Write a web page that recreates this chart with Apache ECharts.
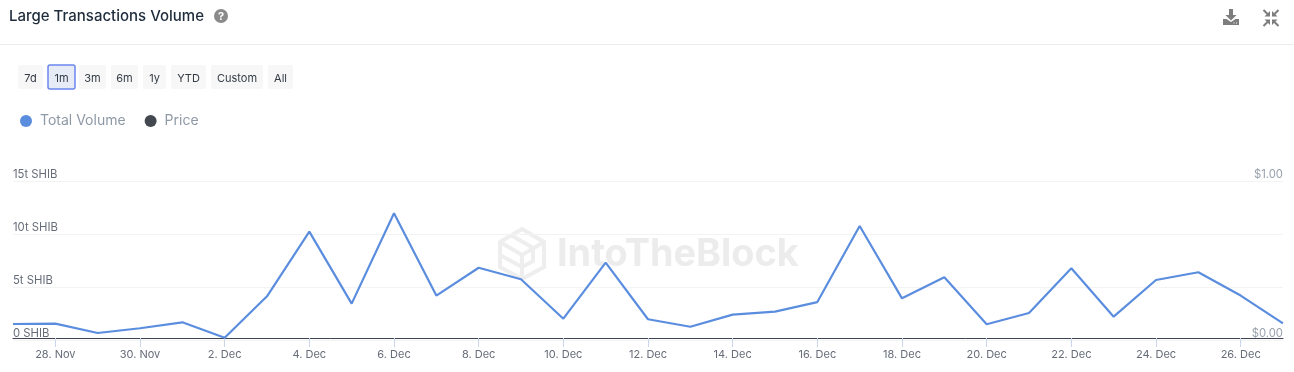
<!DOCTYPE html>
<html>
<head>
<meta charset="utf-8">
<title>Large Transactions Volume</title>
<script src="https://cdn.jsdelivr.net/npm/echarts@6/dist/echarts.min.js"></script>
<style>
html, body { margin: 0; padding: 0; background: #fff; }
#chart { width: 1294px; height: 372px; }
</style>
</head>
<body>
<div id="chart"></div>
<script>
var days = ['27. Nov', '28. Nov', '29. Nov', '30. Nov', '1. Dec', '2. Dec', '3. Dec', '4. Dec', '5. Dec', '6. Dec',
    '7. Dec', '8. Dec', '9. Dec', '10. Dec', '11. Dec', '12. Dec', '13. Dec', '14. Dec', '15. Dec', '16. Dec',
    '17. Dec', '18. Dec', '19. Dec', '20. Dec', '21. Dec', '22. Dec', '23. Dec', '24. Dec', '25. Dec', '26. Dec', '27. Dec'];
// trillions of SHIB
var totalVolume = [1.51, 1.54, 0.66, 1.11, 1.67, 0.22, 4.12, 10.22, 3.43, 11.95,
    4.19, 6.82, 5.73, 2.01, 7.30, 1.96, 1.25, 2.39, 2.68, 3.58,
    10.76, 3.93, 5.91, 1.48, 2.55, 6.76, 2.20, 5.66, 6.39, 4.19, 1.57];
var price = [];
var rangeLabels = ['7d', '1m', '3m', '6m', '1y', 'YTD', 'Custom', 'All'];
var rangeLeft = [18, 48, 79, 111, 143, 171, 211, 268];
var rangeWidth = [25, 27, 27, 27, 23, 35, 52, 25];
var activeRange = '1m';

var FONT = 'Inter, "Noto Sans", sans-serif';
var ICON = '#7d7d7d';
var MARK = '#eeeeee';

function arrow(head, tail) {
    return [
        { type: 'polygon', shape: { points: head }, style: { fill: ICON } },
        { type: 'line', shape: { x1: tail[0], y1: tail[1], x2: tail[2], y2: tail[3] }, style: { stroke: ICON, lineWidth: 2 } }
    ];
}

var graphics = [
    // header
    { type: 'text', left: 9, top: 9, style: { text: 'Large Transactions Volume', fill: '#1d2b3a', font: '500 15px ' + FONT } },
    { type: 'circle', shape: { cx: 221, cy: 16, r: 7 }, style: { fill: '#8a8a8a' } },
    { type: 'text', x: 221, y: 16.5, style: { text: '?', fill: '#fff', font: 'bold 11px ' + FONT, align: 'center', verticalAlign: 'middle' } },
    { type: 'rect', shape: { x: 0, y: 44, width: 1294, height: 1 }, style: { fill: '#ebedef' } },
    // download icon
    { type: 'polygon', shape: { points: [[1229, 9], [1233, 9], [1233, 15], [1236.5, 15], [1231, 20.5], [1225.5, 15], [1229, 15]] }, style: { fill: ICON } },
    { type: 'polygon', shape: { points: [[1223, 19], [1226.5, 19], [1231, 22], [1235.5, 19], [1239, 19], [1239, 25], [1223, 25]] }, style: { fill: ICON } },
    { type: 'rect', shape: { x: 1233.5, y: 22.5, width: 1, height: 1 }, style: { fill: '#fff' } },
    { type: 'rect', shape: { x: 1236, y: 22.5, width: 1, height: 1 }, style: { fill: '#fff' } },
    // watermark
    { type: 'polygon', z: 0, shape: { points: [[522, 229], [544, 242], [544, 267], [522, 279], [500, 267], [500, 242]] }, style: { fill: 'none', stroke: MARK, lineWidth: 4 } },
    { type: 'polyline', z: 0, shape: { points: [[500, 242], [522, 255], [544, 242]] }, style: { fill: 'none', stroke: MARK, lineWidth: 4 } },
    { type: 'polyline', z: 0, shape: { points: [[511, 235], [533, 248], [533, 261], [522, 267], [500, 255]] }, style: { fill: 'none', stroke: MARK, lineWidth: 4 } },
    { type: 'polyline', z: 0, shape: { points: [[522, 255], [522, 279]] }, style: { fill: 'none', stroke: MARK, lineWidth: 4 } },
    { type: 'text', z: 0, x: 557, y: 255, style: { text: 'IntoTheBlock', fill: '#ececec', font: '700 37.8px ' + FONT, verticalAlign: 'middle' } }
];

// compress icon, four arrows pointing at the middle
graphics = graphics.concat(
    arrow([[1270, 16.5], [1270, 11], [1264.5, 16.5]], [1263.5, 10, 1267.5, 14]),
    arrow([[1272, 16.5], [1272, 11], [1277.5, 16.5]], [1278.5, 10, 1274.5, 14]),
    arrow([[1270, 19.5], [1270, 25], [1264.5, 19.5]], [1263.5, 26, 1267.5, 22]),
    arrow([[1272, 19.5], [1272, 25], [1277.5, 19.5]], [1278.5, 26, 1274.5, 22])
);

rangeLabels.forEach(function (label, i) {
    var on = label === activeRange;
    graphics.push({
        type: 'rect',
        shape: { x: rangeLeft[i], y: 65, width: rangeWidth[i], height: 24, r: 2 },
        style: on ? { fill: '#e6ebf6', stroke: '#6b87ee', lineWidth: 1.5 } : { fill: '#f7f7f7' }
    });
    graphics.push({
        type: 'text',
        x: rangeLeft[i] + rangeWidth[i] / 2,
        y: 78.5,
        style: { text: label, fill: '#333b45', font: '11px ' + FONT, align: 'center', verticalAlign: 'middle' }
    });
});

var chart = echarts.init(document.getElementById('chart'));
chart.setOption({
    animation: false,
    graphic: graphics,
    legend: {
        left: 15,
        top: 109,
        itemWidth: 12,
        itemHeight: 12,
        itemGap: 19,
        icon: 'circle',
        selectedMode: false,
        data: ['Total Volume', 'Price'],
        textStyle: { color: '#8e99a6', fontFamily: FONT, fontSize: 14, padding: [0, 0, 0, 3] }
    },
    // zero of the scale sits 2px under the base line, as in the original
    grid: { left: 13, right: 11, top: 181, bottom: 32 },
    xAxis: {
        type: 'category',
        boundaryGap: false,
        data: days,
        offset: -2,
        axisLine: { onZero: false, lineStyle: { color: '#3d4454', width: 1 } },
        axisTick: {
            length: 9,
            alignWithLabel: true,
            lineStyle: { color: '#ccd6eb' },
            interval: function (i) { return i % 2 === 1; }
        },
        axisLabel: {
            color: '#666c78',
            fontFamily: FONT,
            fontSize: 11,
            margin: 11,
            interval: function (i) { return i % 2 === 1; }
        },
        splitLine: { show: false }
    },
    yAxis: [{
        type: 'value',
        min: 0,
        max: 15,
        interval: 5,
        axisLine: { show: false },
        axisTick: { show: false },
        axisLabel: {
            inside: true,
            margin: 0,
            align: 'left',
            verticalAlign: 'bottom',
            color: '#666c78',
            fontFamily: FONT,
            fontSize: 11.3,
            lineHeight: 12,
            formatter: function (v) { return v === 0 ? '0 SHIB' : v + 't SHIB'; }
        },
        splitLine: { lineStyle: { color: '#f3f3f3', width: 1 } }
    }, {
        type: 'value',
        position: 'right',
        min: 0,
        max: 1,
        interval: 1,
        axisLine: { show: false },
        axisTick: { show: false },
        axisLabel: {
            inside: true,
            margin: 0,
            align: 'right',
            verticalAlign: 'bottom',
            color: '#98a2ad',
            fontFamily: FONT,
            fontSize: 11.3,
            lineHeight: 12,
            formatter: function (v) { return '$' + v.toFixed(2); }
        },
        splitLine: { show: false }
    }],
    series: [{
        name: 'Total Volume',
        type: 'line',
        data: totalVolume,
        showSymbol: false,
        symbol: 'circle',
        z: 5,
        itemStyle: { color: '#5b8ddf' },
        lineStyle: { color: '#5b8ddf', width: 2.2 }
    }, {
        name: 'Price',
        type: 'line',
        yAxisIndex: 1,
        data: price,
        showSymbol: false,
        symbol: 'circle',
        itemStyle: { color: '#43474f' },
        lineStyle: { color: '#43474f', width: 2 }
    }]
});
</script>
</body>
</html>
